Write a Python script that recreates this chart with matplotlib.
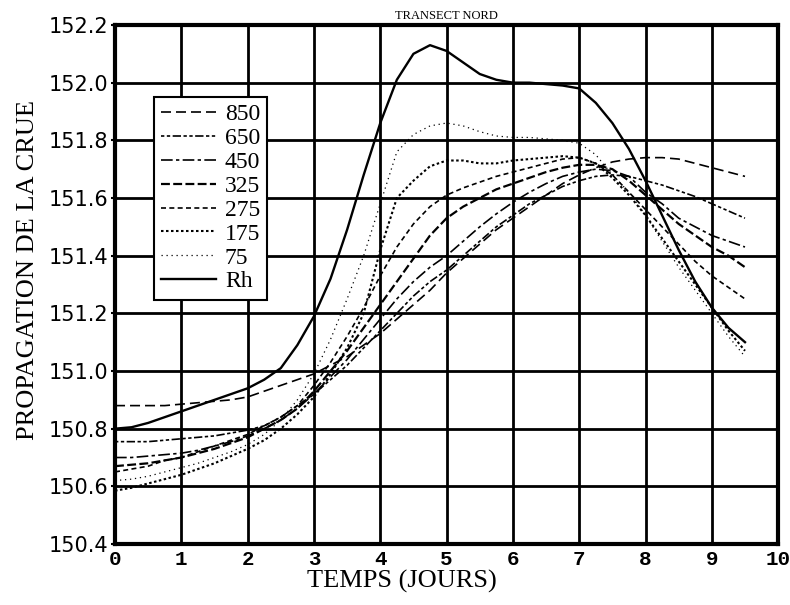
import numpy as np
import matplotlib.pyplot as plt

# temps (jours), pas de 0.25
jours = np.arange(0, 9.51, 0.25)

rh = [150.80, 150.805, 150.82, 150.84, 150.86, 150.88, 150.90, 150.92, 150.94, 150.97,
      151.01, 151.09, 151.19, 151.32, 151.49, 151.68, 151.86, 152.01, 152.10, 152.13,
      152.11, 152.07, 152.03, 152.01, 152.00, 152.00, 151.995, 151.99, 151.98, 151.93,
      151.86, 151.77, 151.66, 151.54, 151.42, 151.31, 151.22, 151.15, 151.10]
s75 = [150.62, 150.625, 150.635, 150.65, 150.665, 150.68, 150.70, 150.72, 150.745, 150.78,
       150.83, 150.90, 150.99, 151.11, 151.25, 151.40, 151.58, 151.76, 151.82, 151.85,
       151.86, 151.85, 151.83, 151.815, 151.81, 151.81, 151.805, 151.80, 151.79, 151.75,
       151.68, 151.62, 151.54, 151.45, 151.36, 151.28, 151.20, 151.12, 151.05]
s175 = [150.585, 150.595, 150.61, 150.625, 150.64, 150.66, 150.68, 150.705, 150.73, 150.76,
        150.80, 150.85, 150.91, 150.99, 151.08, 151.20, 151.42, 151.60, 151.66, 151.71,
        151.73, 151.73, 151.72, 151.72, 151.73, 151.735, 151.74, 151.745, 151.74, 151.72,
        151.67, 151.61, 151.54, 151.46, 151.38, 151.30, 151.22, 151.14, 151.07]
s275 = [150.65, 150.66, 150.67, 150.69, 150.70, 150.72, 150.74, 150.76, 150.78, 150.81,
        150.84, 150.88, 150.95, 151.03, 151.12, 151.22, 151.33, 151.43, 151.51, 151.57,
        151.61, 151.635, 151.655, 151.675, 151.69, 151.705, 151.72, 151.735, 151.74, 151.72,
        151.68, 151.62, 151.56, 151.50, 151.44, 151.38, 151.33, 151.29, 151.25]
s325 = [150.67, 150.675, 150.68, 150.69, 150.70, 150.715, 150.73, 150.75, 150.77, 150.80,
        150.83, 150.87, 150.93, 151.00, 151.07, 151.15, 151.23, 151.31, 151.39, 151.47,
        151.53, 151.57, 151.60, 151.63, 151.65, 151.67, 151.69, 151.705, 151.715, 151.715,
        151.70, 151.66, 151.61, 151.56, 151.51, 151.47, 151.43, 151.40, 151.36]
s450 = [150.70, 150.70, 150.705, 150.71, 150.715, 150.725, 150.74, 150.755, 150.775, 150.80,
        150.83, 150.87, 150.92, 150.98, 151.04, 151.11, 151.18, 151.25, 151.31, 151.36,
        151.40, 151.45, 151.50, 151.545, 151.585, 151.62, 151.65, 151.675, 151.69, 151.70,
        151.695, 151.675, 151.62, 151.58, 151.53, 151.50, 151.47, 151.45, 151.43]
s650 = [150.755, 150.755, 150.755, 150.76, 150.765, 150.77, 150.775, 150.785, 150.795, 150.81,
        150.84, 150.88, 150.92, 150.97, 151.02, 151.08, 151.14, 151.20, 151.26, 151.31,
        151.35, 151.40, 151.45, 151.50, 151.54, 151.58, 151.61, 151.64, 151.66, 151.675,
        151.68, 151.675, 151.66, 151.645, 151.625, 151.605, 151.58, 151.555, 151.53]
s850 = [150.88, 150.88, 150.88, 150.88, 150.885, 150.89, 150.895, 150.90, 150.91, 150.93,
        150.95, 150.97, 150.99, 151.02, 151.05, 151.09, 151.13, 151.18, 151.23, 151.28,
        151.34, 151.39, 151.44, 151.49, 151.53, 151.57, 151.61, 151.65, 151.68, 151.705,
        151.725, 151.735, 151.74, 151.74, 151.735, 151.72, 151.705, 151.69, 151.675]

noms = ["850", "650", "450", "325", "275", "175", "75", "Rh"]
series = [s850, s650, s450, s325, s275, s175, s75, rh]
styles = [dict(lw=1.2, dashes=(6, 3)),
          dict(lw=1.2, dashes=(2, 1.5, 2, 1.5, 5, 1.5)),
          dict(lw=1.2, dashes=(7, 2, 2, 2)),
          dict(lw=1.6, dashes=(4, 1.5)),
          dict(lw=1.2, dashes=(3, 2)),
          dict(lw=1.5, dashes=(1.2, 1.2)),
          dict(lw=0.9, dashes=(1, 3)),
          dict(lw=1.7)]

fig = plt.figure(figsize=(7.9, 6.05), dpi=100)
ax = fig.add_axes([0.1456, 0.1008, 0.8394, 0.8579])

for nom, ys, st in zip(noms, series, styles):
    ax.plot(jours, ys, color='black', label=nom, **st)

ax.set_xlim(0, 10)
ax.set_ylim(150.4, 152.2)
ax.set_xticks(np.arange(0, 11, 1))
ax.set_yticks(np.arange(150.4, 152.21, 0.2))
ax.set_yticklabels(["%.1f" % v for v in np.arange(150.4, 152.21, 0.2)],
                   family='DejaVu Sans', fontsize=15)
ax.set_xticklabels([str(i) for i in range(11)], family='Liberation Mono',
                   fontsize=15, weight='bold')
ax.tick_params(axis='y', length=3, width=1.5, pad=2)
ax.tick_params(axis='x', length=0, pad=4)
ax.grid(True, color='black', lw=2)
ax.set_axisbelow(True)
for sp in ax.spines.values():
    sp.set_linewidth(3)

ax.set_title("TRANSECT NORD", family='Liberation Serif', fontsize=9, pad=4)
ax.set_xlabel("TEMPS (JOURS)", family='Liberation Serif', fontsize=19)
ax.xaxis.set_label_coords(0.433, -0.05)
ax.set_ylabel("PROPAGATION DE LA CRUE", family='Liberation Serif', fontsize=19)
ax.yaxis.set_label_coords(-0.115, 0.528)

leg = ax.legend(loc='upper left', bbox_to_anchor=(0.059, 0.862), borderaxespad=0,
                prop={'family': 'Liberation Serif', 'size': 17}, handlelength=2.3,
                labelspacing=0.1, handletextpad=0.4, borderpad=0.3,
                fancybox=False, framealpha=1)
leg.get_frame().set_edgecolor('black')
leg.get_frame().set_linewidth(1.5)

fig.savefig("out.png", dpi=100)
